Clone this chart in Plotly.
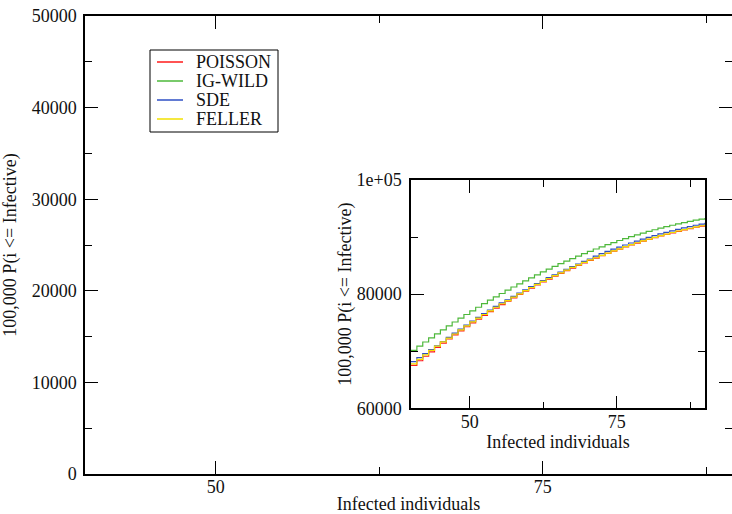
import plotly.graph_objects as go

# Infected individuals (integer steps)
x_vals = list(range(40, 91))

poisson = [67538, 68334, 69118, 69891, 70652, 71402, 72140, 72867, 73582, 74286,
           74978, 75639, 76288, 76926, 77552, 78167, 78770, 79362, 79942, 80511,
           81068, 81604, 82128, 82641, 83142, 83632, 84110, 84577, 85032, 85476,
           85908, 86329, 86738, 87136, 87522, 87897, 88260, 88612, 88952, 89281,
           89598, 89904, 90198, 90481, 90752, 91012, 91260, 91497, 91722, 91936,
           92138]
ig_wild = [70138, 70884, 71618, 72341, 73052, 73752, 74440, 75117, 75782, 76436,
           77078, 77709, 78328, 78936, 79532, 80117, 80690, 81252, 81802, 82341,
           82868, 83384, 83888, 84381, 84862, 85332, 85790, 86237, 86672, 87096,
           87508, 87909, 88298, 88676, 89042, 89397, 89740, 90072, 90392, 90701,
           90998, 91284, 91558, 91821, 92072, 92312, 92540, 92757, 92962, 93156,
           93338]
sde = [68188, 68884, 69568, 70291, 70952, 71702, 72440, 73167, 73882, 74586,
       75278, 75939, 76588, 77226, 77852, 78467, 79020, 79612, 80192, 80761,
       81318, 81854, 82378, 82891, 83392, 83882, 84360, 84827, 85282, 85726,
       86158, 86679, 87088, 87486, 87872, 88247, 88610, 88962, 89302, 89631,
       89948, 90254, 90548, 90831, 91102, 91362, 91610, 91847, 92072, 92286,
       92488]
feller = [67788, 68584, 69368, 70141, 70902, 71652, 72290, 73017, 73732, 74436,
          75128, 75789, 76438, 77076, 77702, 78317, 78870, 79462, 80042, 80611,
          81168, 81704, 82228, 82741, 83242, 83732, 84210, 84677, 85132, 85576,
          86008, 86379, 86788, 87186, 87572, 87947, 88310, 88662, 89002, 89331,
          89648, 89954, 90248, 90531, 90802, 91062, 91310, 91547, 91772, 91986,
          92188]

series_names = ["POISSON", "IG-WILD", "SDE", "FELLER"]
series_values = [poisson, ig_wild, sde, feller]
series_colors = ["#ff1a1a", "#4db83a", "#2e4fc4", "#f2e000"]

main_y_ticks = [0, 10000, 20000, 30000, 40000, 50000]
main_x_ticks = [50, 75]
inset_y_ticks = [60000, 80000, 100000]
inset_y_text = ["60000", "80000", "1e+05"]
inset_x_ticks = [50, 75]

x_title = "Infected individuals"
y_title = "100,000 P(i <= Infective)"

FONT = "Liberation Serif"
TXT = "#111111"

W, H = 732, 514
ML, MR, MT, MB = 85, 0, 16, 40
PW, PH = W - ML - MR, H - MT - MB


def px_x(px):
    return (px - ML) / PW


def px_y(py):
    return (H - MB - py) / PH


fig = go.Figure()

for name, vals, col in zip(series_names, series_values, series_colors):
    fig.add_trace(go.Scatter(x=x_vals, y=vals, mode="lines", name=name,
                             line=dict(color=col, width=1, shape="hv"),
                             xaxis="x", yaxis="y", showlegend=False))
for name, vals, col in zip(series_names, series_values, series_colors):
    fig.add_trace(go.Scatter(x=x_vals, y=vals, mode="lines", name=name,
                             line=dict(color=col, width=1.2, shape="hv"),
                             xaxis="x2", yaxis="y2", showlegend=False))

axis_common = dict(
    showline=True, linecolor="black", linewidth=1.5, mirror="ticks",
    ticks="inside", tickcolor="black", tickwidth=1, ticklen=13,
    showgrid=False, zeroline=False, automargin=False,
    tickfont=dict(family=FONT, size=18, color=TXT),
    title_font=dict(family=FONT, size=18, color=TXT),
)

# Legend drawn as a framed box with line samples and labels
legend_box = (150, 50, 278, 132)
legend_rows = [62, 81, 100, 119]
shapes = [dict(type="rect", xref="paper", yref="paper",
               x0=px_x(legend_box[0]), x1=px_x(legend_box[2]),
               y0=px_y(legend_box[3]), y1=px_y(legend_box[1]),
               line=dict(color="black", width=1), fillcolor="white", layer="above")]
annotations = []
for name, col, row in zip(series_names, series_colors, legend_rows):
    shapes.append(dict(type="line", xref="paper", yref="paper",
                       x0=px_x(157), x1=px_x(183), y0=px_y(row), y1=px_y(row),
                       line=dict(color=col, width=1.5), layer="above"))
    annotations.append(dict(xref="paper", yref="paper", x=px_x(194), y=px_y(row),
                            text=name, showarrow=False, xanchor="left", yanchor="middle",
                            font=dict(family=FONT, size=18, color=TXT)))

fig.update_layout(
    width=W, height=H,
    margin=dict(l=ML, r=MR, t=MT, b=MB),
    paper_bgcolor="white", plot_bgcolor="white",
    font=dict(family=FONT, size=18, color=TXT),
    showlegend=False,
    xaxis=dict(**axis_common, domain=[0, 1], range=[40, 89.47],
               tickvals=main_x_ticks, ticklabelstandoff=-4,
               minor=dict(ticks="inside", dtick=12.5, tick0=0, ticklen=7,
                          tickwidth=1, tickcolor="black", showgrid=False),
               title=dict(text=x_title, standoff=9)),
    yaxis=dict(**axis_common, domain=[0, 1], range=[0, 50000],
               tickvals=main_y_ticks, tickformat="d", ticklabelstandoff=3,
               minor=dict(ticks="inside", dtick=5000, tick0=0, ticklen=7,
                          tickwidth=1, tickcolor="black", showgrid=False),
               title=dict(text=y_title, standoff=15)),
    xaxis2=dict(**axis_common, domain=[px_x(411), px_x(705)], range=[40, 90],
                anchor="y2", tickvals=inset_x_ticks, ticklabelstandoff=-4,
                minor=dict(ticks="inside", dtick=12.5, tick0=0, ticklen=7,
                           tickwidth=1, tickcolor="black", showgrid=False),
                title=dict(text=x_title, standoff=0)),
    yaxis2=dict(**axis_common, domain=[px_y(408.3), px_y(180)], range=[60000, 100000],
                anchor="x2", tickvals=inset_y_ticks, ticktext=inset_y_text,
                ticklabelstandoff=4,
                minor=dict(ticks="inside", dtick=10000, tick0=0, ticklen=7,
                           tickwidth=1, tickcolor="black", showgrid=False),
                title=dict(text=y_title, standoff=0)),
    shapes=shapes,
    annotations=annotations,
)

fig.write_html("out.html", config={"displayModeBar": False},
               post_script="document.body.style.margin='0';")
